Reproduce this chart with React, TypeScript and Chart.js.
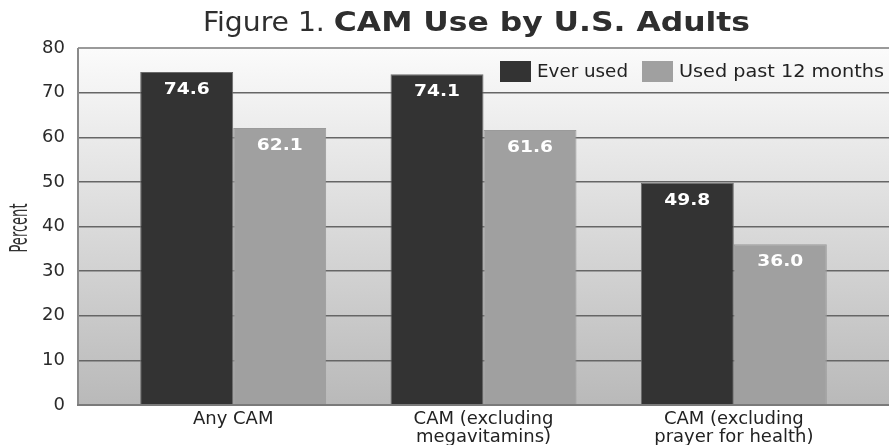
import React, { useEffect, useRef } from "react";
import { Chart, registerables } from "chart.js";

Chart.register(...registerables);

const categories: string[][] = [
  ["Any CAM"],
  ["CAM (excluding", "megavitamins)"],
  ["CAM (excluding", "prayer for health)"],
];
const seriesNames = ["Ever used", "Used past 12 months"];
const everUsed = [74.6, 74.1, 49.8];
const pastYear = [62.1, 61.6, 36.0];
const yMin = 0;
const yMax = 80;
const yStep = 10;
const titleRegular = "Figure 1. ";
const titleBold = "CAM Use by U.S. Adults";
const yTitle = "Percent";

const DARK = "#333333";
const LIGHT = "#a0a0a0";

function fitText(
  ctx: CanvasRenderingContext2D,
  text: string,
  x: number,
  y: number,
  targetW: number,
  align: CanvasTextAlign
) {
  const w = ctx.measureText(text).width;
  const s = targetW / w;
  ctx.save();
  ctx.translate(x, y);
  ctx.scale(s, 1);
  ctx.textAlign = align;
  ctx.fillText(text, 0, 0);
  ctx.restore();
}

const decorPlugin = {
  id: "decor",
  beforeDraw(chart: any) {
    const { ctx, chartArea } = chart;
    const { left, top, right, bottom } = chartArea;
    const g = ctx.createLinearGradient(0, top, 0, bottom);
    g.addColorStop(0, "#fbfbfb");
    g.addColorStop(1, "#b9b9b9");
    ctx.save();
    ctx.fillStyle = g;
    ctx.fillRect(left, top, right - left, bottom - top);
    ctx.restore();
  },
  afterDatasetsDraw(chart: any) {
    const { ctx } = chart;
    ctx.save();
    ctx.font = "bold 15px 'DejaVu Sans'";
    ctx.fillStyle = "#ffffff";
    ctx.textBaseline = "alphabetic";
    const s = 46 / ctx.measureText("74.6").width;
    chart.data.datasets.forEach((ds: any, di: number) => {
      const meta = chart.getDatasetMeta(di);
      meta.data.forEach((bar: any, i: number) => {
        const v = ds.data[i].y;
        ctx.save();
        ctx.translate(bar.x, bar.y + 22);
        ctx.scale(s, 1);
        ctx.textAlign = "center";
        ctx.fillText(v.toFixed(1), 0, 0);
        ctx.restore();
      });
    });
    ctx.restore();
  },
  afterDraw(chart: any) {
    const { ctx, chartArea } = chart;
    const { left, top, right, bottom } = chartArea;
    ctx.save();
    ctx.lineWidth = 2;
    ctx.strokeStyle = "#9a9a9a";
    ctx.beginPath();
    ctx.moveTo(left, top);
    ctx.lineTo(right, top);
    ctx.stroke();
    ctx.strokeStyle = "#8a8a8a";
    ctx.beginPath();
    ctx.moveTo(left, top);
    ctx.lineTo(left, bottom);
    ctx.stroke();
    ctx.strokeStyle = "#7a7a7a";
    ctx.beginPath();
    ctx.moveTo(left - 1, bottom);
    ctx.lineTo(right, bottom);
    ctx.stroke();

    // title
    ctx.fillStyle = "#2e2e2e";
    ctx.textBaseline = "alphabetic";
    ctx.font = "27px 'DejaVu Sans Condensed'";
    const w1 = ctx.measureText(titleRegular).width;
    ctx.font = "bold 27px 'DejaVu Sans'";
    const w2 = ctx.measureText(titleBold).width;
    const ts = 547 / (w1 + w2);
    ctx.save();
    ctx.translate(203, 31);
    ctx.scale(ts, 1);
    ctx.textAlign = "left";
    ctx.font = "27px 'DejaVu Sans Condensed'";
    ctx.fillText(titleRegular, 0, 0);
    ctx.font = "bold 27px 'DejaVu Sans'";
    ctx.fillText(titleBold, w1, 0);
    ctx.restore();

    // legend
    const colors = [DARK, LIGHT];
    const boxX = [500, 642];
    const textX = [537, 679];
    const textW = [91, 205];
    ctx.font = "17px 'DejaVu Sans'";
    seriesNames.forEach((name, i) => {
      ctx.fillStyle = colors[i];
      ctx.fillRect(boxX[i], 61, 31, 21);
      ctx.fillStyle = "#222222";
      fitText(ctx, name, textX[i], 77, textW[i], "left");
    });

    // y title
    ctx.save();
    ctx.translate(27, 228);
    ctx.rotate(-Math.PI / 2);
    ctx.fillStyle = "#333333";
    ctx.font = "25px 'DejaVu Sans Condensed'";
    fitText(ctx, yTitle, 0, 0, 49, "center");
    ctx.restore();
    ctx.restore();
  },
};

export default function App() {
  const ref = useRef<HTMLCanvasElement | null>(null);
  useEffect(() => {
    document.body.style.margin = "0";
    const canvas = ref.current;
    if (!canvas) return;
    const chart = new Chart(canvas, {
      type: "bar",
      data: {
        datasets: [
          {
            label: seriesNames[0],
            data: everUsed.map((v, i) => ({ x: i, y: v })),
            backgroundColor: DARK,
            borderColor: "#6a6a6a",
            borderWidth: 1,
            categoryPercentage: 0.743,
            barPercentage: 1,
          },
          {
            label: seriesNames[1],
            data: pastYear.map((v, i) => ({ x: i, y: v })),
            backgroundColor: LIGHT,
            borderColor: "#9a9a9a",
            borderWidth: 1,
            categoryPercentage: 0.743,
            barPercentage: 1,
          },
        ],
      },
      options: {
        responsive: false,
        animation: false,
        layout: { padding: { top: 48, left: 0, right: 0, bottom: 0 } },
        plugins: {
          legend: { display: false },
          tooltip: { enabled: false },
          title: { display: false },
        },
        scales: {
          x: {
            type: "linear",
            min: -0.62,
            max: 2.62,
            offset: false,
            grid: { display: false, drawTicks: false },
            border: { display: false },
            afterBuildTicks: (scale: any) => {
              scale.ticks = categories.map((_, i) => ({ value: i }));
            },
            afterFit: (scale: any) => {
              scale.height = 40;
            },
            ticks: {
              autoSkip: false,
              maxRotation: 0,
              minRotation: 0,
              padding: 6,
              color: "#222222",
              font: { family: "'DejaVu Sans'", size: 18, lineHeight: 0.98 },
              callback: (value: any) => categories[value as number] ?? "",
            },
          },
          y: {
            min: yMin,
            max: yMax,
            grid: {
              drawTicks: false,
              lineWidth: 1.5,
              color: (c: any) =>
                c.tick && (c.tick.value === yMax || c.tick.value === yMin)
                  ? "rgba(0,0,0,0)"
                  : "#666666",
            },
            border: { display: false },
            afterFit: (scale: any) => {
              scale.width = 78;
            },
            ticks: {
              stepSize: yStep,
              padding: 13,
              color: "#2a2a2a",
              font: { family: "'DejaVu Sans'", size: 18 },
            },
          },
        },
      },
      plugins: [decorPlugin],
    } as any);
    return () => chart.destroy();
  }, []);
  return (
    <div style={{ width: 889, height: 445 }}>
      <canvas ref={ref} width={889} height={445} style={{ display: "block" }} />
    </div>
  );
}
